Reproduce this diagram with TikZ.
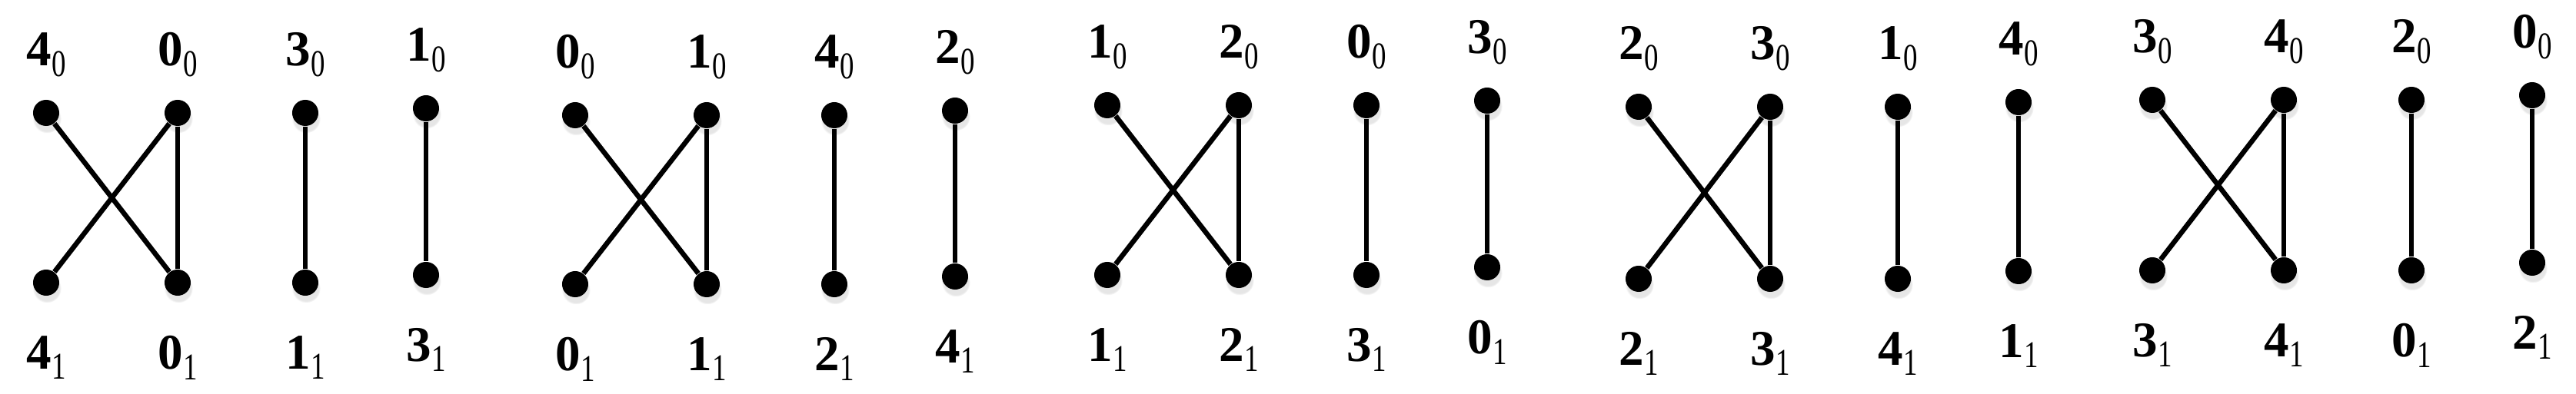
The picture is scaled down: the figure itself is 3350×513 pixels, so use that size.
\documentclass[tikz,border=0pt]{standalone}
\usepackage{fontspec}
\setmainfont{Liberation Serif}
\usepackage{graphicx}
\usetikzlibrary{positioning,shadows}
\newcommand{\vlab}[2]{\textbf{#1}\raisebox{-0.45ex}{\scalebox{0.75}[1]{\fontsize{14}{15}\selectfont #2}}}

\tikzset{
  vert/.style={circle, fill=black, inner sep=0pt, minimum size=0.34cm,
    circular drop shadow={shadow xshift=0.01cm, shadow yshift=-0.07cm, opacity=0.2}},
  vname/.style={font=\fontsize{18.5}{20}\selectfont, inner sep=0pt},
  edge/.style={line width=0.065cm}
}

\begin{document}
\begin{tikzpicture}[x=0.01cm,y=-0.01cm]
  \useasboundingbox (0,0) rectangle (3350,513);
  \foreach \g/\gx/\gt/\gb/\i in {1/60/147/368/4, 2/748/150/370/0, 3/1440/137/358/1, 4/2131/139/363/2, 5/2799/130/352/3} {
    \pgfmathtruncatemacro\lb{mod(\i+1,5)}
    \pgfmathtruncatemacro\lc{mod(\i+4,5)}
    \pgfmathtruncatemacro\ld{mod(\i+2,5)}
    % top row
    \node[vert] (t\g-a) at (\gx,\gt) {};
    \node[vert] (t\g-b) at (\gx+171,\gt) {};
    \node[vert] (t\g-c) at (\gx+337,\gt) {};
    \node[vert] (t\g-d) at (\gx+494,\gt-6) {};
    % bottom row
    \node[vert] (b\g-a) at (\gx,\gb) {};
    \node[vert] (b\g-b) at (\gx+171,\gb) {};
    \node[vert] (b\g-c) at (\gx+337,\gb) {};
    \node[vert] (b\g-d) at (\gx+494,\gb-10) {};
    % labels
    \node[vname, above=0.29cm of t\g-a] (lt\g-a) {\vlab{\i}{0}};
    \node[vname, above=0.29cm of t\g-b] (lt\g-b) {\vlab{\lb}{0}};
    \node[vname, above=0.29cm of t\g-c] (lt\g-c) {\vlab{\lc}{0}};
    \node[vname, above=0.29cm of t\g-d] (lt\g-d) {\vlab{\ld}{0}};
    \node[vname, below=0.51cm of b\g-a] (lb\g-a) {\vlab{\i}{1}};
    \node[vname, below=0.51cm of b\g-b] (lb\g-b) {\vlab{\lb}{1}};
    \node[vname, below=0.51cm of b\g-c] (lb\g-c) {\vlab{\ld}{1}};
    \node[vname, below=0.51cm of b\g-d] (lb\g-d) {\vlab{\lc}{1}};
    % edges
    \draw[edge] (t\g-a) -- (b\g-b);
    \draw[edge] (b\g-a) -- (t\g-b);
    \draw[edge] (t\g-b) -- (b\g-b);
    \draw[edge] (t\g-c) -- (b\g-c);
    \draw[edge] (t\g-d) -- (b\g-d);
  }
\end{tikzpicture}
\end{document}
